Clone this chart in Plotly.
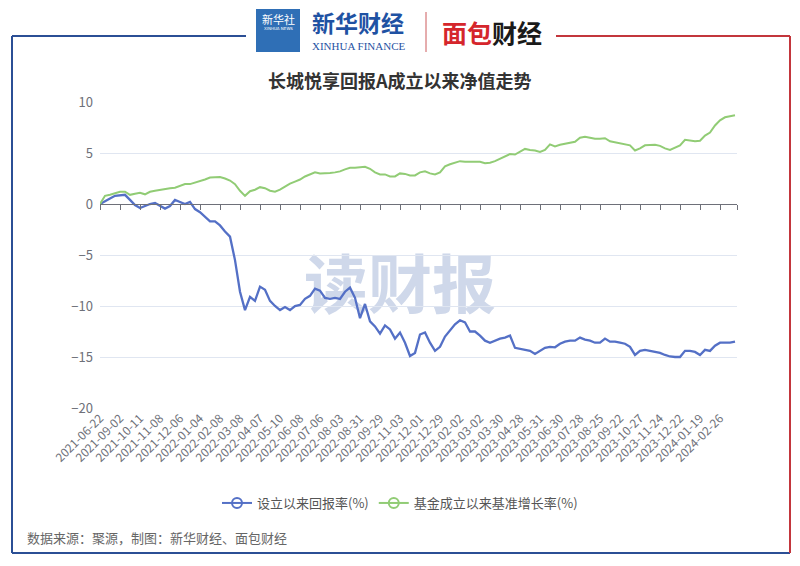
import plotly.graph_objects as go

# ---------------- data ----------------
tick_labels = ["2021-06-22", "2021-09-02", "2021-10-11", "2021-11-08", "2021-12-06",
               "2022-01-04", "2022-02-08", "2022-03-08", "2022-04-07", "2022-05-10",
               "2022-06-08", "2022-07-06", "2022-08-03", "2022-08-31", "2022-09-29",
               "2022-11-03", "2022-12-01", "2022-12-29", "2023-02-02", "2023-03-02",
               "2023-03-30", "2023-04-28", "2023-05-31", "2023-06-30", "2023-07-28",
               "2023-08-25", "2023-09-22", "2023-10-27", "2023-11-24", "2023-12-22",
               "2024-01-19", "2024-02-26"]
label_step = 20          # trading days between labels
last_index = 637         # index of the last trading day shown

sample_index = list(range(0, 640, 5))   # trading-day index of each sampled value

fund_return = [0.0, 0.3, 0.55, 0.8, 0.85, 0.9, 0.4, -0.1, -0.4, -0.2,
               0.0, 0.1, -0.2, -0.45, -0.2, 0.4, 0.2, 0.0, 0.2, -0.5,
               -0.8, -1.3, -1.7, -1.7, -2.1, -2.7, -3.2, -5.5, -8.6, -10.4,
               -9.1, -9.5, -8.1, -8.4, -9.5, -10.0, -10.4, -10.1, -10.4, -10.0,
               -9.9, -9.3, -9.0, -8.3, -8.5, -9.2, -9.3, -9.2, -9.3, -8.6,
               -8.2, -9.2, -11.2, -9.8, -11.5, -12.0, -12.7, -11.9, -12.3, -13.2,
               -12.6, -13.6, -14.9, -14.6, -12.8, -12.6, -13.6, -14.4, -14.0, -13.0,
               -12.4, -11.8, -11.4, -11.6, -12.5, -12.5, -12.9, -13.4, -13.6, -13.4,
               -13.2, -13.1, -12.9, -14.1, -14.2, -14.3, -14.4, -14.7, -14.4, -14.1,
               -14.0, -14.05, -13.7, -13.5, -13.4, -13.4, -13.1, -13.3, -13.4, -13.6,
               -13.6, -13.2, -13.5, -13.5, -13.6, -13.7, -14.0, -14.8, -14.4, -14.3,
               -14.4, -14.5, -14.6, -14.8, -14.95, -15.0, -15.0, -14.4, -14.4, -14.5,
               -14.8, -14.3, -14.4, -13.9, -13.6, -13.6, -13.6, -13.5]

benchmark = [0.0, 0.8, 0.9, 1.05, 1.2, 1.2, 0.9, 1.0, 1.1, 0.95,
             1.2, 1.3, 1.4, 1.45, 1.55, 1.6, 1.8, 1.95, 1.95, 2.1,
             2.2, 2.4, 2.6, 2.65, 2.65, 2.5, 2.3, 1.95, 1.3, 0.8,
             1.25, 1.4, 1.65, 1.55, 1.3, 1.2, 1.4, 1.7, 2.0, 2.2,
             2.4, 2.7, 2.9, 3.1, 3.0, 3.0, 3.05, 3.1, 3.2, 3.4,
             3.55, 3.55, 3.6, 3.65, 3.45, 3.1, 2.9, 2.9, 2.7, 2.7,
             3.0, 2.95, 2.8, 2.8, 3.1, 3.2, 3.0, 2.9, 3.1, 3.7,
             3.9, 4.05, 4.2, 4.15, 4.15, 4.2, 4.15, 4.0, 4.05, 4.2,
             4.45, 4.7, 4.9, 4.85, 5.15, 5.4, 5.3, 5.25, 5.1, 5.3,
             5.85, 5.65, 5.8, 5.9, 6.05, 6.1, 6.5, 6.6, 6.5, 6.4,
             6.4, 6.45, 6.15, 6.05, 5.95, 5.85, 5.75, 5.25, 5.45, 5.75,
             5.8, 5.8, 5.7, 5.45, 5.3, 5.5, 5.75, 6.3, 6.2, 6.15,
             6.2, 6.7, 7.0, 7.7, 8.2, 8.5, 8.6, 8.7]

series_names = ["设立以来回报率(%)", "基金成立以来基准增长率(%)"]
series_colors = ["#5470c6", "#91cc75"]
y_min, y_max, y_step = -20, 10, 5

title_text = "长城悦享回报A成立以来净值走势"
source_text = "数据来源：聚源，制图：新华财经、面包财经"

# ---------------- layout geometry ----------------
W, H = 800, 566
L, R, T, B = 100, 737, 102, 408
FONT = "Noto Sans CJK SC"


def px(x):
    return (x - L) / (R - L)


def py(y):
    return (B - y) / (B - T)


tick_vals = [i * label_step for i in range(len(tick_labels))]

fig = go.Figure()

for vals, name, col, wid in [(fund_return, series_names[0], series_colors[0], 2.3),
                             (benchmark, series_names[1], series_colors[1], 2.0)]:
    fig.add_trace(go.Scatter(x=sample_index, y=vals, mode="lines", name=name,
                             line=dict(color=col, width=wid), showlegend=False,
                             hoverinfo="skip"))

# legend entries (line + open circle icon)
for name, col in zip(series_names, series_colors):
    fig.add_trace(go.Scatter(x=[None], y=[None], mode="lines+markers", name=name,
                             xaxis="x2",
                             line=dict(color=col, width=2),
                             marker=dict(symbol="circle-open", size=10, color=col,
                                         line=dict(width=2, color=col))))

zero_pos = (0 - y_min) / (y_max - y_min)

fig.update_layout(
    width=W, height=H,
    margin=dict(l=L, r=W - R, t=T, b=H - B, pad=0),
    paper_bgcolor="white", plot_bgcolor="white",
    font=dict(family=FONT, color="#6e7079"),
    showlegend=True,
    legend=dict(orientation="h", x=px(400), xanchor="center", y=py(503), yanchor="middle",
                font=dict(family=FONT, size=13, color="#555555"),
                itemwidth=30, bgcolor="rgba(0,0,0,0)", traceorder="normal"),
    xaxis=dict(range=[0, last_index], tickmode="array", tickvals=tick_vals,
               ticktext=tick_labels, tickangle=-45, showgrid=False, zeroline=False,
               showline=False, ticks="", tickfont=dict(family=FONT, size=12, color="#6e7079"),
               fixedrange=True),
    xaxis2=dict(range=[0, last_index], overlaying="x", anchor="free", position=zero_pos,
                side="bottom", tickmode="array", tickvals=tick_vals + [last_index],
                showticklabels=False, ticks="outside", ticklen=5, tickcolor="#6e7079",
                showline=True, linecolor="#6e7079", linewidth=1, showgrid=False,
                zeroline=False),
    yaxis=dict(range=[y_min, y_max], dtick=y_step, tick0=0, showgrid=True,
               gridcolor="#E0E6F1", zeroline=False, showline=False, ticks="",
               tickfont=dict(family=FONT, size=13, color="#6e7079"), ticklabelstandoff=6),
)

shapes = []
# watermark (below traces)
shapes.append(dict(type="rect", xref="paper", yref="paper",
                   x0=px(280), x1=px(520), y0=py(325), y1=py(255),
                   line=dict(width=0), fillcolor="rgba(0,0,0,0)", layer="below",
                   label=dict(text="读财报", textposition="middle center",
                              font=dict(family=FONT, size=64, color="#cfd8ea", weight="bold"))))
# frame
blue, red = "#2b4f95", "#c3363c"
shapes += [
    dict(type="line", xref="paper", yref="paper", x0=px(12), x1=px(246), y0=py(36), y1=py(36),
         line=dict(color=blue, width=2)),
    dict(type="line", xref="paper", yref="paper", x0=px(12), x1=px(12), y0=py(36), y1=py(553),
         line=dict(color=blue, width=2)),
    dict(type="line", xref="paper", yref="paper", x0=px(12), x1=px(790), y0=py(553), y1=py(553),
         line=dict(color=blue, width=2)),
    dict(type="line", xref="paper", yref="paper", x0=px(556), x1=px(790), y0=py(36), y1=py(36),
         line=dict(color=red, width=2)),
    dict(type="line", xref="paper", yref="paper", x0=px(790), x1=px(790), y0=py(36), y1=py(553),
         line=dict(color=red, width=2)),
    # logo square
    dict(type="rect", xref="paper", yref="paper", x0=px(256), x1=px(300), y0=py(52), y1=py(9),
         line=dict(width=0), fillcolor="#2f6fb6"),
    # separator
    dict(type="line", xref="paper", yref="paper", x0=px(426), x1=px(426), y0=py(12), y1=py(52),
         line=dict(color="#cc5a5c", width=1)),
]
fig.update_layout(shapes=shapes)

ann = [
    dict(text="新华社", x=px(278), y=py(19), font=dict(family=FONT, size=11, color="white")),
    dict(text="XINHUA NEWS", x=px(278), y=py(29), font=dict(family="DejaVu Sans", size=4, color="white")),
    dict(text="新华财经", x=px(358), y=py(22),
         font=dict(family=FONT, size=23, color="#1f52a3", weight="bold")),
    dict(text="XINHUA FINANCE", x=px(358), y=py(46),
         font=dict(family="Liberation Serif", size=11, color="#1f52a3")),
    dict(text='<span style="color:#d5262c">面包</span>财经', x=px(492), y=py(32),
         font=dict(family=FONT, size=25, color="#1a1a1a", weight="bold")),
    dict(text=title_text, x=px(400), y=py(80),
         font=dict(family=FONT, size=18, color="#333333", weight="bold")),
    dict(text=source_text, x=px(25), y=py(537), xanchor="left",
         font=dict(family=FONT, size=13, color="#666666")),
]
for a in ann:
    a.update(xref="paper", yref="paper", showarrow=False)
    a.setdefault("xanchor", "center")
    a.setdefault("yanchor", "middle")
fig.update_layout(annotations=ann)

fig.write_html("out.html",
               config={"displayModeBar": False, "staticPlot": True},
               post_script="document.body.style.margin='0';document.body.style.padding='0';")
